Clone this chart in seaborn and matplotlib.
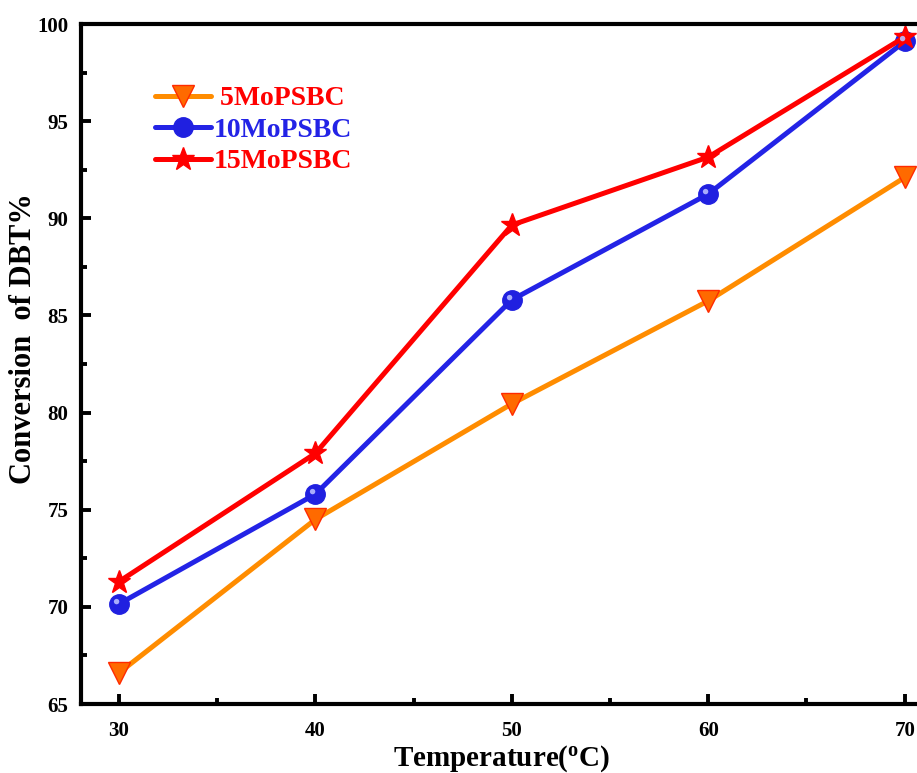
import matplotlib
matplotlib.use("Agg")
import matplotlib.pyplot as plt
import seaborn as sns
import numpy as np
from matplotlib.ticker import MultipleLocator
from matplotlib.path import Path

temps = [30, 40, 50, 60, 70]
s5 = [66.6, 74.5, 80.45, 85.75, 92.1]
s10 = [70.15, 75.8, 85.8, 91.25, 99.1]
s15 = [71.3, 77.9, 89.65, 93.15, 99.33]
labels = [" 5MoPSBC", "10MoPSBC", "15MoPSBC"]

sns.set_style("ticks")
plt.rcParams['font.family'] = ['Liberation Serif', 'DejaVu Serif']
plt.rcParams['font.weight'] = 'bold'
plt.rcParams['text.color'] = 'black'
plt.rcParams['axes.labelcolor'] = 'black'
plt.rcParams['xtick.color'] = 'black'
plt.rcParams['ytick.color'] = 'black'
plt.rcParams['axes.edgecolor'] = 'black'
plt.rcParams['mathtext.fontset'] = 'custom'
plt.rcParams['mathtext.rm'] = 'Liberation Serif:bold'
plt.rcParams['mathtext.it'] = 'Liberation Serif:bold'
plt.rcParams['mathtext.bf'] = 'Liberation Serif:bold'

fig = plt.figure(figsize=(9.17, 7.73), dpi=100)
ax = fig.add_axes([81/917, 69/773, 863/917, 680/773])

styles = [
    dict(color="#FF8C00", marker="v", markersize=16.5, markerfacecolor="#FF6A00", markeredgecolor="#FF2A00", markeredgewidth=1.0),
    dict(color="#2323E6", marker="o", markersize=14, markerfacecolor="#2020E0", markeredgecolor="#2020E0", markeredgewidth=1.0),
    dict(color="#FF0000", marker="*", markersize=17, markerfacecolor="#FF0000", markeredgecolor="#FF0000", markeredgewidth=1.0),
]
series = [s5, s10, s15]
handles = []
for vals, lab, st in zip(series, labels, styles):
    sns.lineplot(x=temps, y=vals, ax=ax, linewidth=3.6, label=lab, **st)
    handles.append(ax.lines[-1])

# sphere highlight (offset light spot) for the blue markers
circ = Path.circle(center=(-0.3, 0.3), radius=0.28)
verts = np.vstack([circ.vertices, [[1.0, 1.0]]])
codes = np.concatenate([circ.codes, [Path.MOVETO]])
hl_marker = Path(verts, codes)
sns.lineplot(x=temps, y=s10, ax=ax, linestyle='none', marker=hl_marker, markersize=14,
             markerfacecolor="#B8BCFF", markeredgecolor="none", alpha=0.9, zorder=5, legend=False)

ax.set_xlim(28.07, 72)
ax.set_ylim(65, 100)
ax.xaxis.set_major_locator(MultipleLocator(10))
ax.xaxis.set_minor_locator(MultipleLocator(5))
ax.yaxis.set_major_locator(MultipleLocator(5))
ax.yaxis.set_minor_locator(MultipleLocator(2.5))
ax.tick_params(which='major', direction='in', length=7, width=2.8, labelsize=15)
ax.tick_params(axis='y', which='major', pad=9)
ax.tick_params(axis='x', which='major', pad=12)
ax.tick_params(which='minor', direction='in', length=4, width=2.8)
ax.tick_params(top=False, right=False)
for lab in ax.get_xticklabels() + ax.get_yticklabels():
    lab.set_fontweight('bold')
for sp in ax.spines.values():
    sp.set_linewidth(3.0)
    sp.set_visible(True)

ax.set_xlabel(r'Temperature($^{\rm o}$C)', fontsize=21, fontweight='bold')
ax.set_ylabel('Conversion  of DBT%', fontsize=22, fontweight='bold')
ax.xaxis.set_label_coords(0.488, -0.058)
ax.yaxis.set_label_coords(-0.050, 0.537)

leg = ax.legend(handles=handles, labels=labels, loc='upper left', bbox_to_anchor=(0.0857, 0.909),
                frameon=False, handlelength=2.0, handletextpad=0.1, borderpad=0.0,
                borderaxespad=0.0, labelspacing=0.22, prop={'weight': 'bold', 'size': 20})
for txt, c in zip(leg.get_texts(), ["#FF0000", "#2323E6", "#FF0000"]):
    txt.set_color(c)

fig.savefig("out.png", dpi=100)
